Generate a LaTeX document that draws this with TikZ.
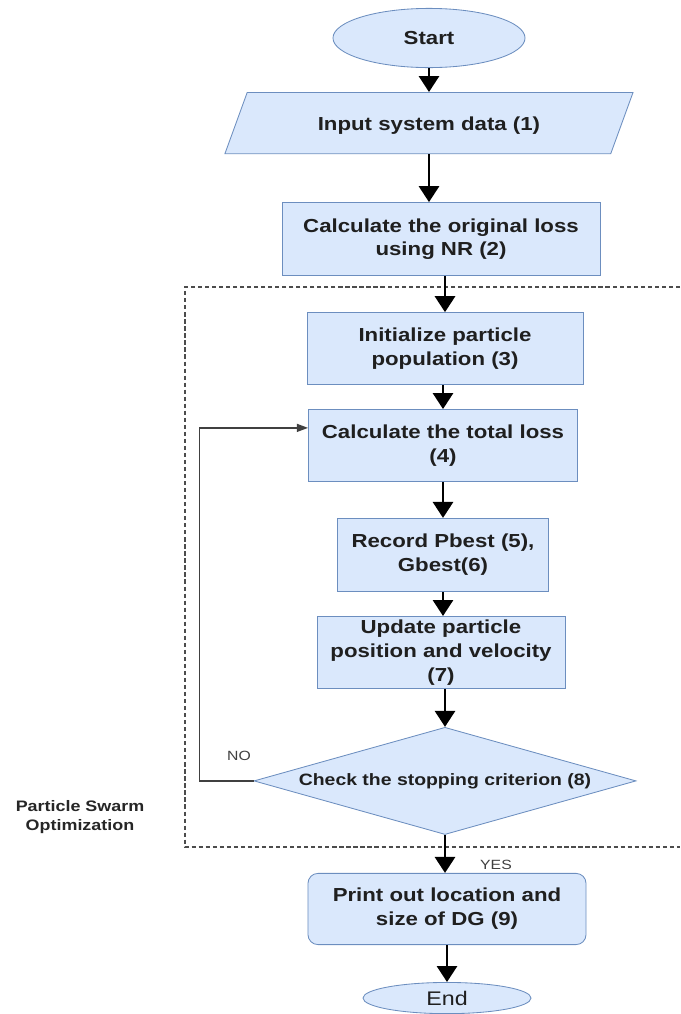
\documentclass[tikz,border=0pt]{standalone}
\usepackage{fontspec}
\setmainfont[FakeStretch=1.18]{Liberation Sans}
\usetikzlibrary{arrows.meta,positioning,shapes.geometric}
\definecolor{boxfill}{HTML}{DAE8FC}
\definecolor{boxline}{HTML}{6C8EBF}
\definecolor{lblgray}{HTML}{404040}
\tikzset{
    flowtext/.style={font=\fontsize{13.4}{17}\selectfont\bfseries, text=black!88, align=center, inner sep=0pt},
    startstop/.style={ellipse, draw=boxline, fill=boxfill, line width=0.6pt, flowtext},
    inputbox/.style={trapezium, trapezium left angle=70, trapezium right angle=110, trapezium stretches body, draw=boxline, fill=boxfill, line width=0.6pt, flowtext, text height=0.55cm, text depth=0.2cm, inner ysep=0.39cm, minimum width=10.2cm},
    procbox/.style={rectangle, draw=boxline, fill=boxfill, line width=0.6pt, flowtext},
    decision/.style={diamond, aspect=4, draw=boxline, fill=boxfill, line width=0.6pt, flowtext, font=\fontsize{11.7}{14}\selectfont\bfseries},
    sidelabel/.style={font=\fontsize{9.5}{11}\selectfont, text=lblgray, inner sep=0pt},
}

\begin{document}
\begin{tikzpicture}[x=0.025cm,y=-0.025cm,
    flowarrow/.style={-{Triangle[length=0.4cm,width=0.5cm]},line width=2.1pt,black},
    loopline/.style={-{Triangle[length=0.28cm,width=0.2cm]},line width=1pt,black!75},
    psoframe/.style={dash pattern=on 3pt off 2pt,line width=0.8pt,black!70}]
    \useasboundingbox (0,0) rectangle (680,1014);

    % main flow
    \node[startstop, minimum width=4.8cm, minimum height=1.48cm] (start) at (429,38) {Start};
    \node[inputbox] (inp) [below=0.6cm of start] {Input system data (1)};
    \node[procbox, minimum width=7.95cm, minimum height=1.83cm] (calc) [below=1.2cm of inp, xshift=0.3cm] {Calculate the original loss\\using NR (2)};
    \node[procbox, minimum width=6.9cm, minimum height=1.8cm] (init) [below=0.9cm of calc, xshift=0.1cm] {Initialize particle\\population (3)};
    \node[procbox, minimum width=6.725cm, minimum height=1.8cm] (total) [below=0.6cm of init, xshift=-0.05cm] {Calculate the total loss\\(4)};
    \node[procbox, minimum width=5.275cm, minimum height=1.83cm] (record) [below=0.9cm of total] {Record Pbest (5),\\Gbest(6)};
    \node[procbox, minimum width=6.2cm, minimum height=1.8cm] (update) [below=0.6cm of record, xshift=-0.05cm] {Update particle\\position and velocity\\(7)};
    \node[decision, minimum width=9.55cm, minimum height=2.68cm] (dia) [below=0.95cm of update, xshift=0.1cm] {Check the stopping criterion (8)};
    \node[procbox, rounded corners=0.25cm, minimum width=6.95cm, minimum height=1.78cm] (print) [below=0.95cm of dia, xshift=0.05cm] {Print out location and\\size of DG (9)};
    \node[startstop, font=\fontsize{14}{16}\selectfont, minimum width=4.2cm, minimum height=0.78cm] (end) [below=0.925cm of print] {End};

    % PSO frame
    \draw[psoframe] (680,287) -- (185,287) -- (185,847) -- (680,847);
    \node[sidelabel, font=\fontsize{10.8}{13.5}\selectfont\bfseries, text=black!85, align=center] (pso) at (80,817) {Particle Swarm\\Optimization};
    \node[sidelabel] (no) at (239,756) {NO};
    \node[sidelabel] (yes) at (496,865) {YES};

    \path[flowarrow]
        (start.south) edge (inp.north)
        (inp.south) edge (inp.south |- calc.north)
        (init.north |- calc.south) edge (init.north)
        (init.south -| total.north) edge (total.north)
        (total.south) edge (record.north)
        (record.south) edge (record.south |- update.north)
        (update.south -| dia.north) edge (dia.north)
        (dia.south) edge (dia.south |- print.north)
        (print.south) edge (end.north)
        ;

    \draw[loopline] (dia.west) -- ++(-54,0) |- ([yshift=0.44cm]total.west);
\end{tikzpicture}
\end{document}
